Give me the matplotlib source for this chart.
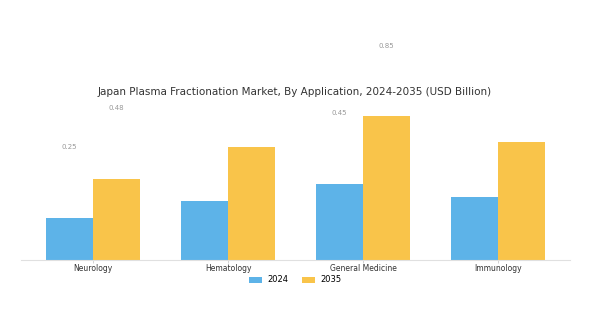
import numpy as np
import matplotlib.pyplot as plt

categories = ['Neurology', 'Hematology', 'General Medicine', 'Immunology']
values_2024 = [0.25, 0.35, 0.45, 0.37]
values_2035 = [0.48, 0.67, 0.85, 0.70]
shown_labels = [0, 2]  # only these categories carry value labels

fig = plt.figure(figsize=(5.9, 3.16), dpi=100)
ax = fig.add_axes([21/590, 1-260/316, 549/590, 160/316])

x = np.arange(len(categories))
w = 0.35
b1 = ax.bar(x - w/2, values_2024, w, color='#5DB3E8', label='2024')
b2 = ax.bar(x + w/2, values_2035, w, color='#F9C44A', label='2035')

for i in shown_labels:
    for bars, vals in ((b1, values_2024), (b2, values_2035)):
        r = bars[i]
        ax.annotate(f'{vals[i]:.2f}', (r.get_x() + r.get_width()/2, r.get_height()),
                    xytext=(0, 51), textcoords='offset points',
                    ha='center', va='center', fontsize=5, color='#999999',
                    annotation_clip=False)

ax.set_ylim(0, 160/169)
ax.set_xticks(x)
ax.set_xticklabels(categories, fontsize=5.5, color='#333333')
ax.tick_params(axis='x', length=2, width=0.6, color='#cccccc', pad=1)
ax.set_yticks([])
for s in ['top', 'right', 'left']:
    ax.spines[s].set_visible(False)
ax.spines['bottom'].set_color('#e0e0e0')
ax.spines['bottom'].set_linewidth(0.8)

fig.text(295/590, 1-92/316, 'Japan Plasma Fractionation Market, By Application, 2024-2035 (USD Billion)',
         ha='center', va='center', fontsize=7.5, color='#333333')

fig.legend(handles=[b1, b2], loc='center', bbox_to_anchor=(295/590, 1-280/316), ncol=2,
           frameon=False, fontsize=6, handlelength=1.6, handleheight=0.7,
           handletextpad=0.6, columnspacing=1.6)

fig.savefig('out.png', dpi=100)
